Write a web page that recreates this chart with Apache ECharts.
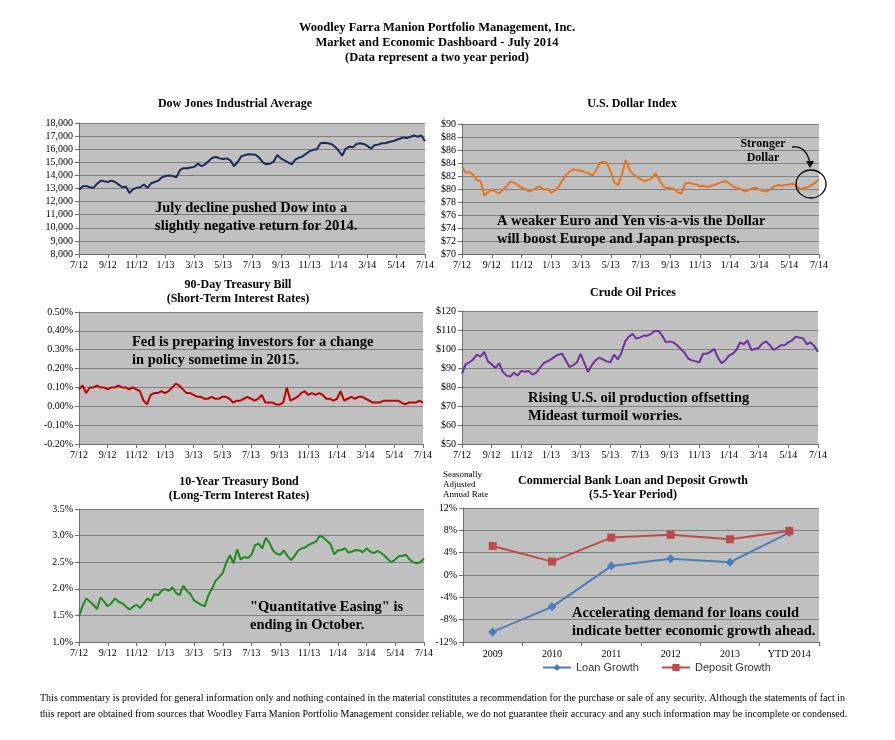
<!DOCTYPE html>
<html><head><meta charset="utf-8">
<script src="https://cdn.jsdelivr.net/npm/echarts@6/dist/echarts.min.js"></script>
<style>html,body{margin:0;padding:0;background:#fff}#c{width:895px;height:740px}</style>
</head><body><div id="c"></div>
<script>
// ---------- DATA ----------
const timeTickLabels = ['7/12','9/12','11/12','1/13','3/13','5/13','7/13','9/13','11/13','1/14','3/14','5/14','7/14'];

const dowValues = [12900,13150,13200,13100,13050,13350,13600,13550,13500,13600,13500,13300,13100,13150,12650,12950,
13050,13100,13300,13050,13400,13500,13600,13850,13950,14000,13950,13850,14400,14550,14550,14600,
14650,14900,14700,14850,15100,15350,15400,15300,15250,15300,15150,14700,15000,15450,15550,15620,
15600,15580,15350,15000,14850,14900,15050,15550,15300,15150,15000,14850,15200,15350,15450,15650,
15850,15950,16000,16450,16500,16450,16400,16200,15900,15500,16050,16200,16150,16400,16450,16400,
16250,16050,16300,16350,16450,16450,16550,16600,16700,16800,16900,16850,16950,17050,16950,17050,16600];

const dollarValues = [83.4,82.5,82.6,82.2,81.4,81.2,79.0,79.5,79.9,79.6,79.3,79.9,80.4,81.1,81.0,80.6,
80.2,80.0,79.6,79.8,80.2,80.4,79.9,80.0,79.4,79.7,80.4,81.3,82.2,82.7,83.0,82.9,
82.8,82.6,82.4,82.1,82.8,84.0,84.2,84.0,82.6,81.0,80.6,82.2,84.5,83.0,82.3,81.9,
81.5,81.2,81.4,81.6,82.4,81.5,80.5,80.1,80.2,80.0,79.5,79.3,80.8,81.0,80.8,80.7,
80.4,80.5,80.3,80.5,80.6,80.9,81.1,81.2,80.8,80.3,80.2,80.0,79.6,79.8,80.1,80.2,
79.9,79.7,79.6,80.0,80.4,80.6,80.5,80.6,80.7,80.8,80.4,80.0,80.1,80.3,80.6,81.0,81.5];

const tbillValues = [0.09,0.11,0.07,0.10,0.10,0.11,0.10,0.10,0.09,0.10,0.10,0.11,0.10,0.10,0.09,0.10,
0.09,0.08,0.03,0.01,0.06,0.07,0.07,0.08,0.07,0.08,0.10,0.12,0.11,0.09,0.07,0.07,
0.06,0.05,0.05,0.04,0.04,0.05,0.04,0.04,0.05,0.05,0.04,0.02,0.03,0.03,0.04,0.05,
0.04,0.03,0.04,0.06,0.02,0.02,0.02,0.01,0.01,0.02,0.10,0.03,0.04,0.05,0.07,0.08,
0.06,0.07,0.06,0.07,0.06,0.04,0.04,0.03,0.04,0.08,0.03,0.04,0.05,0.04,0.05,0.05,
0.04,0.03,0.02,0.02,0.02,0.03,0.03,0.03,0.03,0.03,0.02,0.01,0.02,0.02,0.02,0.03,0.02];

const oilValues = [87,92,93,94.5,97,96,98.5,93.5,92,90,92.5,88,86,85.5,87.5,86,
88.5,88,88.5,86.5,87.5,90,92.5,93.5,94.5,96,97,97.5,94,90.5,91.5,93,
97.5,92.5,88,91.5,94,95.5,94.5,93.5,93,97,94.5,98,104,106.5,108,105.5,
106,107,107,108,109.5,109.5,107,103.5,104,103.5,102,100,98,95,94,93.5,
93,97.5,97.5,98.5,100,95.5,92.5,94,96.5,97.5,99.5,103.5,102.5,104.5,99.5,100,
100.5,103,104,102,99.5,100.5,102,102,103.5,104.5,106.5,106,105.5,102.5,103.5,101.5,98.5];

const bondValues = [1.48,1.68,1.82,1.76,1.70,1.62,1.84,1.76,1.67,1.73,1.82,1.76,1.73,1.67,1.61,1.66,
1.70,1.64,1.72,1.82,1.77,1.90,1.88,1.96,2.00,1.96,2.03,1.92,1.88,2.06,1.96,1.90,
1.78,1.74,1.70,1.67,1.88,2.00,2.15,2.22,2.30,2.50,2.63,2.48,2.74,2.55,2.60,2.58,
2.64,2.82,2.85,2.76,2.96,2.86,2.72,2.66,2.64,2.72,2.62,2.54,2.62,2.72,2.76,2.78,
2.83,2.86,2.89,3.00,2.96,2.90,2.84,2.65,2.72,2.73,2.76,2.68,2.70,2.73,2.72,2.69,
2.76,2.70,2.67,2.71,2.68,2.62,2.55,2.50,2.55,2.61,2.62,2.64,2.55,2.50,2.48,2.50,2.57];

const bankCategories = ['2009','2010','2011','2012','2013','YTD 2014'];
const loanGrowth = [-10.2,-5.7,1.6,2.9,2.3,7.6];
const depositGrowth = [5.2,2.4,6.7,7.2,6.4,7.9];

// ---------- BUILD ----------
const SERIF = "'Liberation Serif','Times New Roman',serif";
const SANS = "'Liberation Sans',Arial,sans-serif";
const AX = '#6e6e6e', GRIDC = '#808080', BG = '#c0c0c0';

function toXY(values){ return values.map((v,i)=>[i*24/(values.length-1), v]); }

const grids = [
  {left:79, top:123, width:346, height:131},
  {left:462, top:124, width:357, height:130},
  {left:79, top:312, width:344, height:132},
  {left:462, top:311, width:356, height:133},
  {left:79, top:509, width:345, height:133},
  {left:463, top:508, width:356, height:134}
].map(g=>Object.assign({show:true, backgroundColor:BG, borderWidth:0, containLabel:false}, g));

function xTime(gi){
  return {type:'value', gridIndex:gi, min:0, max:24, interval:2,
    axisLine:{onZero:false, lineStyle:{color:AX}},
    axisTick:{show:true, length:4, lineStyle:{color:AX}},
    splitLine:{show:false},
    axisLabel:{fontFamily:SERIF, fontSize:10, color:'#000', margin:6,
      formatter:v=>timeTickLabels[Math.round(v/2)]}};
}
function yVal(gi,min,max,interval,fmt){
  return {type:'value', gridIndex:gi, min:min, max:max, interval:interval,
    axisLine:{show:true, lineStyle:{color:AX}},
    axisTick:{show:true, length:4, lineStyle:{color:AX}},
    splitLine:{show:true, lineStyle:{color:GRIDC, width:1}},
    axisLabel:{fontFamily:SERIF, fontSize:10, color:'#000', margin:6, formatter:fmt}};
}

const xAxes = [xTime(0), xTime(1), xTime(2), xTime(3), xTime(4),
  {type:'category', gridIndex:5, data:bankCategories, boundaryGap:true,
   axisLine:{onZero:false, lineStyle:{color:AX}},
   axisTick:{show:true, length:4, lineStyle:{color:AX}},
   axisLabel:{fontFamily:SERIF, fontSize:10, color:'#000', margin:7}}];

const yAxes = [
  yVal(0, 8000, 18000, 1000, v=>v.toLocaleString('en-US')),
  yVal(1, 70, 90, 2, v=>'$'+v),
  yVal(2, -0.2, 0.5, 0.1, v=>v.toFixed(2)+'%'),
  yVal(3, 50, 120, 10, v=>'$'+v),
  yVal(4, 1.0, 3.5, 0.5, v=>v.toFixed(1)+'%'),
  yVal(5, -12, 12, 4, v=>Math.round(v)+'%')
];

function ts(name, idx, values, color){
  return {name:name, type:'line', xAxisIndex:idx, yAxisIndex:idx, data:toXY(values),
    showSymbol:false, symbol:'none', lineStyle:{color:color, width:2}, itemStyle:{color:color}};
}

const series = [
  ts('Dow', 0, dowValues, '#1c2a5a'),
  ts('Dollar', 1, dollarValues, '#e8741c'),
  ts('TBill', 2, tbillValues, '#c00000'),
  ts('Oil', 3, oilValues, '#7030a0'),
  ts('Bond', 4, bondValues, '#1e8a1e'),
  {name:'Loan Growth', type:'line', xAxisIndex:5, yAxisIndex:5, data:loanGrowth,
   symbol:'diamond', symbolSize:9, lineStyle:{color:'#4a7ebb', width:2}, itemStyle:{color:'#4a7ebb'}},
  {name:'Deposit Growth', type:'line', xAxisIndex:5, yAxisIndex:5, data:depositGrowth,
   symbol:'rect', symbolSize:8, lineStyle:{color:'#be4b48', width:2}, itemStyle:{color:'#be4b48'}}
];

function txt(x,y,text,size,opts){
  opts = opts||{};
  return {type:'text', x:x, y:y, z:100, silent:true, style:{text:text, fontFamily:SERIF,
    fontSize:size, fontWeight:opts.weight||'bold', fill:opts.fill||'#000',
    textAlign:opts.align||'left', textVerticalAlign:'middle', verticalAlign:'middle'}};
}
const C = {align:'center'};
const A = 14.5;
const graphics = [
  txt(437,28,'Woodley Farra Manion Portfolio Management, Inc.',12.5,C),
  txt(437,43,'Market and Economic Dashboard - July 2014',12.5,C),
  txt(437,58,'(Data represent a two year period)',12.5,C),

  txt(235,104,'Dow Jones Industrial Average',12,C),
  txt(632,104,'U.S. Dollar Index',12,C),
  txt(238,285,'90-Day Treasury Bill',12,C),
  txt(238,299,'(Short-Term Interest Rates)',12,C),
  txt(633,293,'Crude Oil Prices',12,C),
  txt(239,482,'10-Year Treasury Bond',12,C),
  txt(239,496,'(Long-Term Interest Rates)',12,C),
  txt(633,481,'Commercial Bank Loan and Deposit Growth',12,C),
  txt(633,495,'(5.5-Year Period)',12,C),

  txt(155,208,'July decline pushed Dow into a',A),
  txt(155,226,'slightly negative return for 2014.',A),
  txt(497,221,'A weaker Euro and Yen vis-a-vis the Dollar',A),
  txt(497,239,'will boost Europe and Japan prospects.',A),
  txt(132,342,'Fed is preparing investors for a change',A),
  txt(132,360,'in policy sometime in 2015.',A),
  txt(528,398,'Rising U.S. oil production offsetting',A),
  txt(528,416,'Mideast turmoil worries.',A),
  txt(250,607,'"Quantitative Easing" is',A),
  txt(250,625,'ending in October.',A),
  txt(572,613,'Accelerating demand for loans could',A),
  txt(572,631,'indicate better economic growth ahead.',A),

  txt(763,144,'Stronger',12,C),
  txt(763,158,'Dollar',12,C),
  {type:'bezierCurve', z:100, silent:true, shape:{x1:792,y1:147,cpx1:806,cpy1:145,x2:810,y2:163},
   style:{stroke:'#000', lineWidth:1.3, fill:null}},
  {type:'polygon', z:100, silent:true, shape:{points:[[806,161],[814,161],[810,168]]}, style:{fill:'#000'}},
  {type:'ellipse', z:100, silent:true, shape:{cx:811,cy:184,rx:15,ry:14}, style:{stroke:'#000', lineWidth:1.3, fill:null}},

  txt(443,475,'Seasonally',9,{weight:'normal'}),
  txt(443,485,'Adjusted',9,{weight:'normal'}),
  txt(443,495,'Annual Rate',9,{weight:'normal'}),

  txt(40,698,'This commentary is provided for general information only and nothing contained in the material constitutes a recommendation for the purchase or sale of any security. Although the statements of fact in',10,{weight:'normal'}),
  txt(40,714,'this report are obtained from sources that Woodley Farra Manion Portfolio Management consider reliable, we do not guarantee their accuracy and any such information may be incomplete or condensed.',10,{weight:'normal'})
];

const chart = echarts.init(document.getElementById('c'), null, {renderer:'canvas'});
chart.setOption({
  animation:false,
  backgroundColor:'#fff',
  grid:grids, xAxis:xAxes, yAxis:yAxes, series:series,
  legend:{data:['Loan Growth','Deposit Growth'], left:537, top:657, itemWidth:28, itemHeight:9, itemGap:22,
    textStyle:{fontFamily:SANS, fontSize:11, color:'#333'}},
  graphic:graphics
});
</script></body></html>
